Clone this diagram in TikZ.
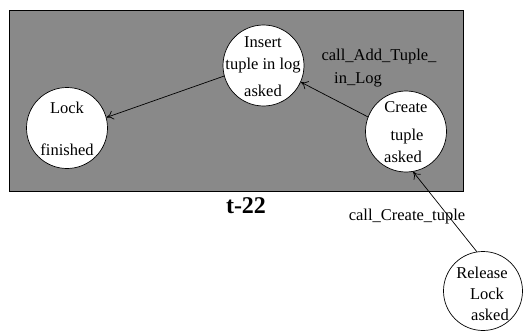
\documentclass[tikz,border=0pt]{standalone}
\usepackage{fontspec}
\setmainfont{Liberation Serif}
\usetikzlibrary{arrows.meta}
\definecolor{boxgray}{HTML}{898989}
\begin{document}
\begin{tikzpicture}[x=1pt,y=-1pt,
  state/.style={circle,draw=black,fill=white,line width=0.7pt,minimum size=81pt,inner sep=0pt},
  lbl/.style={inner sep=0pt,anchor=base,font=\fontsize{16.5}{19}\selectfont},
  conn/.style={line width=0.7pt,-{To[length=7pt,width=9pt]}}]
\useasboundingbox (0,0) rectangle (523,332);
\draw[fill=boxgray,line width=0.8pt] (9,10) rectangle (463,191);
\node[state] (lock) at (67,128) {};
\node[state] (insert) at (263.5,65.5) {};
\node[state] (create) at (406,131.5) {};
\node[state,minimum size=79pt] (release) at (483,291) {};
\node[lbl] (t1) at (67,113) {Lock};
\node[lbl] (t2) at (67,155) {finished};
\node[lbl] (t3) at (263,48) {Insert};
\node[lbl] (t4) at (263,70) {tuple in log};
\node[lbl] (t5) at (263,96) {asked};
\node[lbl] (t6) at (406,112) {Create};
\node[lbl] (t7) at (407,140) {tuple};
\node[lbl] (t8) at (403,162) {asked};
\node[lbl] (t9) at (482,278) {Release};
\node[lbl] (t10) at (487,299) {Lock};
\node[lbl] (t11) at (490,320) {asked};
\node[lbl] (a1) at (379,60) {call\_Add\_Tuple\_};
\node[lbl] (a2) at (358,83) {in\_Log};
\node[lbl] (a3) at (407,220) {call\_Create\_tuple};
\node[inner sep=0pt,anchor=base,font=\fontsize{24}{28}\selectfont\bfseries] (title) at (246,213) {t-22};
\draw[conn] (create.159) -- (insert.-24);
\draw[conn] (insert.195) -- (lock.15);
\draw[conn] (release.99) -- (create.-80);
\end{tikzpicture}
\end{document}
